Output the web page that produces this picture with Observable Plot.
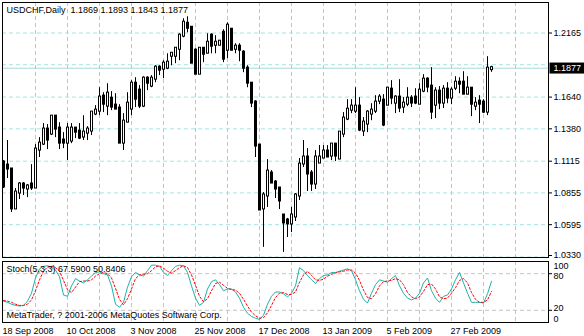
<!DOCTYPE html>
<html><head><meta charset="utf-8">
<script src="https://cdn.jsdelivr.net/npm/d3@7"></script>
<script src="https://cdn.jsdelivr.net/npm/@observablehq/plot@0.6"></script>
<style>
body{margin:0;background:#fff;}
#wrap{position:relative;width:584px;height:336px;overflow:hidden;background:#fff;}
#wrap svg{position:absolute;left:0;}
</style></head><body><div id="wrap"></div>
<script>
const symbolTitle = "USDCHF,Daily";
const opens = [1.1104,1.1079,1.1047,1.0728,1.0858,1.0924,1.0891,1.0924,1.0899,1.1210,
1.1259,1.1374,1.1341,1.1480,1.1382,1.1284,1.1267,1.1284,1.1382,1.1357,
1.1317,1.1349,1.1366,1.1505,1.1529,1.1644,1.1570,1.1627,1.1570,1.1546,
1.1267,1.1439,1.1546,1.1750,1.1693,1.1570,1.1791,1.1734,1.1791,1.1881,
1.1873,1.1881,1.1979,1.1979,1.2036,1.2143,1.2241,1.2208,1.2020,1.1832,
1.2036,1.2004,1.2143,1.2069,1.2069,1.2167,1.2028,1.2192,1.2036,1.2053,
1.2004,1.1873,1.1750,1.1595,1.1243,1.0728,1.0834,1.1014,1.0940,1.0891,
1.0670,1.0629,1.0605,1.0662,1.0834,1.1096,1.1145,1.1014,1.0932,1.1104,
1.1145,1.1194,1.1161,1.1251,1.1137,1.1341,1.1464,1.1537,1.1529,1.1562,
1.1366,1.1423,1.1505,1.1529,1.1611,1.1611,1.1578,1.1701,1.1595,1.1636,
1.1562,1.1586,1.1627,1.1636,1.1586,1.1693,1.1783,1.1726,1.1578,1.1685,
1.1595,1.1701,1.1636,1.1717,1.1758,1.1758,1.1668,1.1709,1.1570,1.1603,
1.1595,1.1521,1.1869];
const highs = [1.1120,1.1284,1.1055,1.0891,1.0940,1.0940,1.0924,1.1087,1.1251,1.1308,
1.1423,1.1415,1.1488,1.1488,1.1431,1.1349,1.1423,1.1423,1.1390,1.1423,
1.1488,1.1398,1.1521,1.1570,1.1717,1.1676,1.1750,1.1685,1.1668,1.1578,
1.1505,1.1676,1.1775,1.1799,1.1734,1.1807,1.1807,1.1816,1.1897,1.1897,
1.1938,1.1995,1.2004,1.2045,1.2159,1.2282,1.2298,1.2216,1.2036,1.2045,
1.2045,1.2159,1.2159,1.2143,1.2102,1.2192,1.2249,1.2192,1.2077,1.2077,
1.2020,1.1897,1.1758,1.1611,1.1243,1.0858,1.1128,1.1038,1.0957,1.0899,
1.0670,1.0646,1.0736,1.0850,1.1137,1.1284,1.1218,1.1038,1.1202,1.1243,
1.1243,1.1243,1.1259,1.1259,1.1349,1.1513,1.1619,1.1619,1.1717,1.1636,
1.1472,1.1529,1.1586,1.1652,1.1660,1.1660,1.1717,1.1775,1.1652,1.1783,
1.1636,1.1717,1.1652,1.1709,1.1750,1.1824,1.1799,1.1881,1.1717,1.1726,
1.1734,1.1758,1.1717,1.1807,1.1799,1.1848,1.1807,1.1717,1.1636,1.1652,
1.1619,1.1971,1.1893];
const lows = [1.0891,1.0973,1.0695,1.0719,1.0801,1.0834,1.0817,1.0875,1.0891,1.1145,
1.1243,1.1210,1.1325,1.1308,1.1210,1.1218,1.1120,1.1259,1.1300,1.1292,
1.1284,1.1284,1.1325,1.1488,1.1488,1.1513,1.1488,1.1529,1.1537,1.1259,
1.1202,1.1431,1.1488,1.1554,1.1546,1.1554,1.1693,1.1717,1.1758,1.1816,
1.1791,1.1865,1.1897,1.1914,1.1938,1.2126,1.2167,1.1914,1.1824,1.1832,
1.1922,1.1995,1.1995,1.1995,1.2061,1.1922,1.1955,1.2020,1.1995,1.1930,
1.1840,1.1717,1.1554,1.1145,1.0719,1.0409,1.0736,1.0932,1.0809,1.0719,
1.0368,1.0490,1.0531,1.0621,1.0793,1.1063,1.0867,1.0867,1.0883,1.1096,
1.1137,1.1145,1.1120,1.1112,1.1128,1.1308,1.1447,1.1505,1.1505,1.1357,
1.1317,1.1349,1.1447,1.1505,1.1578,1.1398,1.1570,1.1578,1.1505,1.1513,
1.1505,1.1562,1.1554,1.1578,1.1586,1.1676,1.1676,1.1456,1.1464,1.1537,
1.1546,1.1586,1.1578,1.1693,1.1668,1.1660,1.1660,1.1480,1.1529,1.1423,
1.1505,1.1488,1.1843];
const closes = [1.0908,1.1055,1.0728,1.0858,1.0924,1.0899,1.0908,1.0899,1.1210,1.1259,
1.1374,1.1292,1.1480,1.1382,1.1267,1.1267,1.1382,1.1382,1.1357,1.1308,
1.1349,1.1374,1.1513,1.1529,1.1636,1.1586,1.1668,1.1562,1.1546,1.1267,
1.1439,1.1586,1.1750,1.1627,1.1570,1.1791,1.1758,1.1791,1.1881,1.1865,
1.1914,1.1922,1.1995,1.2036,1.2143,1.2249,1.2208,1.1922,1.1832,1.2036,
1.1995,1.2085,1.2061,1.2085,1.2094,1.1955,1.2225,1.2028,1.2053,1.2028,
1.1881,1.1758,1.1595,1.1243,1.0719,1.0834,1.1030,1.0940,1.0891,1.0793,
1.0613,1.0605,1.0670,1.0834,1.1087,1.1145,1.1014,1.0932,1.1145,1.1145,
1.1194,1.1153,1.1251,1.1161,1.1349,1.1464,1.1537,1.1562,1.1562,1.1374,
1.1431,1.1513,1.1529,1.1595,1.1636,1.1415,1.1709,1.1636,1.1636,1.1554,
1.1586,1.1627,1.1595,1.1595,1.1693,1.1783,1.1726,1.1521,1.1685,1.1595,
1.1701,1.1636,1.1693,1.1758,1.1750,1.1668,1.1709,1.1586,1.1586,1.1586,
1.1521,1.1873,1.1877];
const stochMain = [35,33,30,28,27,28,35,48,73,88,92,93,90,86,75,45,43,60,72,68,
65,70,76,82,83,80,78,60,30,25,33,58,75,82,78,76,85,94,94,92,
82,77,85,92,94,93,82,60,40,28,33,55,67,70,62,52,55,55,50,40,
25,15,10,7,5,12,30,43,50,50,47,42,48,60,90,85,77,70,64,72,
77,78,82,82,84,86,88,85,70,52,38,32,48,62,70,68,66,72,77,60,
48,40,37,40,48,65,73,52,40,33,43,45,55,70,82,65,48,33,33,33,
32,47,67.59];
const stochSignal = [36,35,33,30,28,28,30,37,52,70,84,91,92,90,84,69,54,49,58,67,
68,68,70,76,80,82,80,73,56,38,29,39,55,72,78,79,80,85,91,93,
89,84,81,85,90,93,90,78,61,43,34,39,52,64,66,61,56,54,53,48,
38,27,17,11,7,8,16,28,41,48,49,46,46,50,66,78,84,77,70,69,
71,76,79,81,83,84,86,86,81,69,53,41,39,47,60,67,68,69,72,70,
62,49,42,39,42,51,62,63,55,42,39,40,48,57,69,72,65,49,38,33,
33,37,50.84];
const dateTickIndex = [0,16,32,48,64,80,96,112];
const dateTickLabels = ["18 Sep 2008","10 Oct 2008","3 Nov 2008","25 Nov 2008","17 Dec 2008","13 Jan 2009","5 Feb 2009","27 Feb 2009"];
const priceLabelTicks = [1.2165,1.1640,1.1380,1.1115,1.0855,1.0595,1.0330];
const priceGridTicks = [1.2165,1.1905,1.1640,1.1380,1.1115,1.0855,1.0595,1.0330];
const stochLevelTicks = [80,20];
const stochScaleLabels = [100,80,20,0];
const stochTitle = "Stoch(5,3,3) 67.5900 50.8406";
const copyrightText = "MetaTrader, ? 2001-2006 MetaQuotes Software Corp.";

const n = closes.length;
const candles = opens.map((o,i)=>({i, o, h: highs[i], l: lows[i], c: closes[i]}));
const bulls = candles.filter(d => d.c >= d.o);
const last = candles[n-1];
const titleText = `${symbolTitle}  ${last.o.toFixed(4)} ${last.h.toFixed(4)} ${last.l.toFixed(4)} ${last.c.toFixed(4)}`;
const vGrid = d3.range(8, 136, 8);

const font = "'Liberation Sans', Arial, sans-serif";
const xScale = {type:"linear", domain:[-0.25, 136.25], axis:null};
const cyanGrid = "#a3e4e4";
const grayGrid = "#c4c4c4";
const stochLabelDy = [4.5, 2.5, -2, -3];

const main = Plot.plot({
  width:584, height:258, marginLeft:2, marginRight:36, marginTop:2, marginBottom:1,
  style:{fontFamily:font, fontSize:"9px", background:"white", overflow:"visible", color:"black"},
  x: xScale,
  y: {domain:[1.0326, 1.2415], axis:null},
  marks:[
    Plot.ruleX(vGrid, {x:d=>d, stroke:grayGrid, strokeDasharray:"4,3"}),
    Plot.ruleY(priceGridTicks, {y:d=>d, stroke:cyanGrid, strokeDasharray:"4,3"}),
    Plot.ruleY([last.c], {y:d=>d, stroke:"#a8d6d6"}),
    Plot.ruleX(candles, {x:"i", y1:"l", y2:"h", stroke:"black", strokeWidth:1}),
    Plot.ruleX(candles, {x:"i", y1:"o", y2:"c", stroke:"black", strokeWidth:3, strokeLinecap:"square"}),
    Plot.ruleX(bulls, {x:"i", y1:"o", y2:"c", stroke:"white", strokeWidth:1, insetTop:0.5, insetBottom:0.5}),
    Plot.frame({stroke:"black"}),
    Plot.axisY(priceLabelTicks.slice(0, -1), {anchor:"right", tickSize:3, tickPadding:2, tickFormat:d=>d.toFixed(4)}),
    Plot.axisY(priceLabelTicks.slice(-1), {anchor:"right", tickSize:3, tickPadding:2, dy:-1.5, tickFormat:d=>d.toFixed(4)}),
    Plot.text([last.c], {y:d=>d, text:d=>d.toFixed(4), frameAnchor:"right", dx:5, textAnchor:"start", fill:"white"}),
    Plot.text([titleText], {text:d=>d, frameAnchor:"top-left", dx:4, dy:4, lineAnchor:"top", fill:"black"})
  ]
});

const sub = Plot.plot({
  width:584, height:78, marginLeft:2, marginRight:36, marginTop:3, marginBottom:14,
  style:{fontFamily:font, fontSize:"9px", background:"white", overflow:"visible", color:"black"},
  x: xScale,
  y: {domain:[0,100], axis:null},
  marks:[
    Plot.ruleX(vGrid, {x:d=>d, stroke:grayGrid, strokeDasharray:"4,3"}),
    Plot.ruleY(stochLevelTicks, {y:d=>d, stroke:grayGrid, strokeDasharray:"4,3"}),
    Plot.lineY(stochMain, {stroke:"#20b2aa", strokeWidth:1}),
    Plot.lineY(stochSignal, {stroke:"#ff0000", strokeWidth:1, strokeDasharray:"2,2"}),
    Plot.frame({stroke:"black"}),
    Plot.axisY(stochLevelTicks, {anchor:"right", tickSize:3, tickPadding:2, tickFormat:()=>""}),
    ...stochScaleLabels.map((v, k) => Plot.text([v], {y:d=>d, text:d=>String(d), frameAnchor:"right",
      dx:5, dy:stochLabelDy[k], textAnchor:"start"})),
    Plot.axisX(dateTickIndex, {anchor:"bottom", tickSize:0, tickPadding:5, textAnchor:"start", dx:-1,
      tickFormat:(d)=>dateTickLabels[dateTickIndex.indexOf(d)]}),
    Plot.text([stochTitle], {text:d=>d, frameAnchor:"top-left", dx:4, dy:4, lineAnchor:"top", fill:"black"}),
    Plot.text([copyrightText], {text:d=>d, frameAnchor:"bottom-left", dx:4, dy:-5, lineAnchor:"bottom", fill:"black"})
  ]
});

const wrap = document.getElementById("wrap");
main.style.top = "0px";
sub.style.top = "258px";
wrap.appendChild(main);
wrap.appendChild(sub);

// black box behind the current price tag
const tag = last.c.toFixed(4);
d3.select(main).selectAll("text").filter(function(){
  return this.textContent === tag;
}).each(function(){
  const b = this.getBBox();
  const r = document.createElementNS("http://www.w3.org/2000/svg", "rect");
  r.setAttribute("x", b.x - 4); r.setAttribute("y", b.y - 0.5);
  r.setAttribute("width", b.width + 8); r.setAttribute("height", b.height + 1);
  r.setAttribute("fill", "black");
  if (this.getAttribute("transform")) r.setAttribute("transform", this.getAttribute("transform"));
  this.parentNode.insertBefore(r, this);
  this.setAttribute("fill", "white");
});
</script></body></html>
